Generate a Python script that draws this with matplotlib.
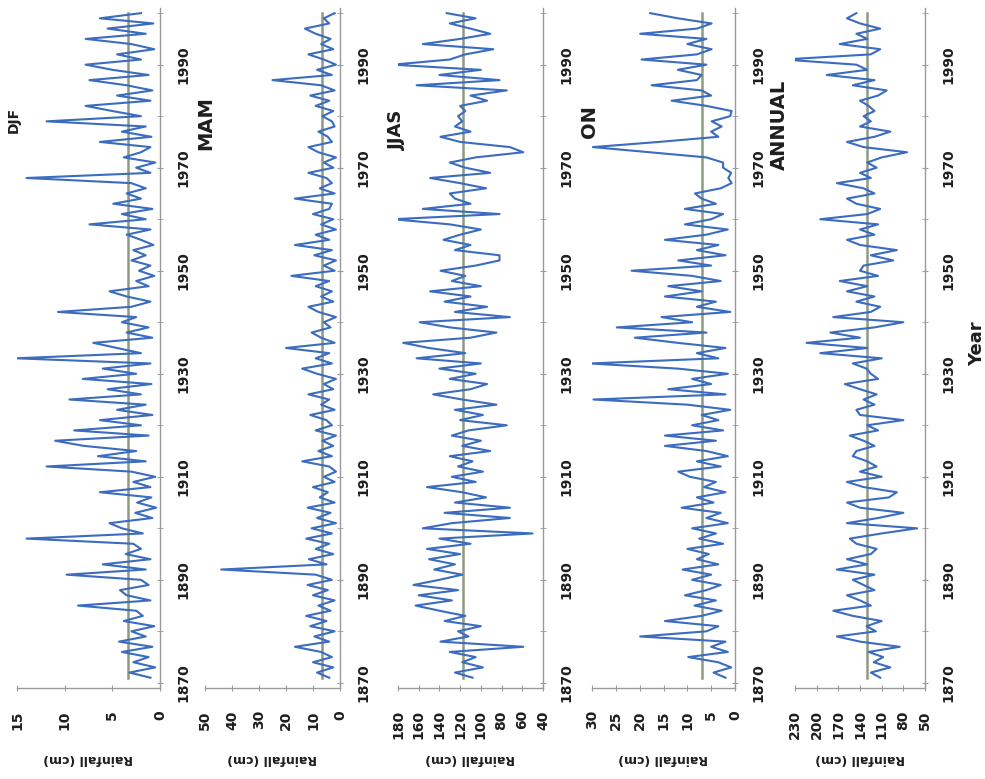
import matplotlib
matplotlib.use('Agg')
import matplotlib.pyplot as plt

plt.rcParams['font.family'] = ['DejaVu Sans']
plt.rcParams['font.weight'] = 'bold'

# ---------------- data ----------------
years = list(range(1871, 2001))

djf = [1.0, 3.2, 0.5, 2.8, 1.2, 4.0, 0.8, 4.3, 1.5, 3.0,
       0.6, 3.8, 1.8, 2.5, 8.6, 1.0, 3.5, 4.2, 1.2, 2.0,
       9.8, 1.5, 6.0, 1.0, 3.6, 2.0, 2.8, 14.0, 1.8, 4.0,
       5.3, 0.8, 2.6, 0.4, 2.4, 0.9, 6.3, 1.0, 2.8, 0.5,
       3.0, 11.9, 1.5, 6.5, 2.5, 8.0, 11.0, 1.2, 9.0, 2.0,
       6.3, 0.8, 4.5, 1.5, 9.5, 2.0, 5.5, 0.9, 8.1, 2.5,
       6.0, 1.0, 15.1, 2.0, 4.5, 7.0, 0.8, 3.5, 1.2, 4.0,
       2.5, 10.7, 3.0, 1.0, 3.5, 5.3, 1.2, 2.5, 0.6, 2.2,
       1.0, 3.0, 1.5, 2.8, 0.7, 2.0, 3.5, 1.0, 7.4, 1.5,
       4.0, 0.8, 4.9, 2.0, 3.5, 1.5, 3.0, 14.0, 1.0, 2.5,
       0.5, 3.8, 2.0, 1.0, 6.3, 0.9, 4.0, 1.5, 11.9, 2.0,
       5.0, 7.8, 1.0, 4.5, 0.8, 3.5, 7.4, 1.2, 5.0, 7.8,
       2.0, 4.5, 0.6, 3.0, 7.8, 1.5, 5.5, 0.7, 6.3, 2.0]

mam = [4.0, 8.5, 2.5, 10.0, 3.0, 7.0, 16.7, 4.0, 9.5, 2.0,
       11.0, 5.0, 12.5, 3.5, 8.0, 2.0, 10.0, 4.5, 12.0, 3.0,
       9.0, 44.0, 5.0, 11.5, 2.5, 9.0, 4.0, 12.5, 3.0, 10.5,
       1.5, 8.5, 3.5, 12.0, 2.0, 7.5, 4.5, 10.0, 2.0, 6.0,
       1.5, 4.0, 14.0, 3.0, 8.0, 2.5, 6.5, 1.5, 9.0, 3.0,
       5.0, 11.0, 2.0, 7.0, 4.0, 11.7, 2.5, 6.0, 1.5, 8.5,
       14.0, 3.0, 9.0, 4.0, 20.0, 2.0, 7.0, 10.5, 3.5, 6.0,
       1.5, 8.0, 11.7, 2.5, 7.0, 3.0, 9.0, 4.0, 18.0, 2.0,
       6.0, 1.5, 9.5, 3.0, 16.7, 4.0, 9.0, 1.5, 7.0, 2.5,
       10.0, 4.0, 3.0, 16.7, 2.0, 7.5, 3.0, 5.0, 11.7, 2.5,
       6.0, 1.5, 8.0, 11.7, 3.0, 4.5, 8.0, 2.0, 3.0, 6.5,
       2.5, 9.0, 4.0, 11.0, 2.0, 7.0, 25.0, 3.0, 8.5, 1.5,
       6.0, 11.7, 2.5, 7.0, 3.5, 9.0, 13.0, 4.0, 6.0, 2.0]

jjas = [108, 125, 98, 118, 105, 130, 59, 139, 112, 122,
        100, 135, 115, 140, 163, 128, 160, 122, 165, 140,
        118, 145, 125, 150, 120, 152, 110, 140, 50, 156,
        128, 72, 135, 72, 125, 95, 118, 152, 105, 128,
        98, 122, 108, 130, 91, 118, 100, 128, 112, 75,
        120, 98, 125, 85, 118, 146, 110, 94, 130, 105,
        140, 100, 162, 115, 150, 175, 110, 85, 130, 159,
        72, 125, 94, 135, 110, 149, 100, 128, 115, 139,
        105, 82, 82, 125, 110, 136, 120, 100, 130, 185,
        82, 156, 110, 125, 130, 95, 120, 149, 91, 115,
        130, 105, 59, 72, 120, 139, 110, 125, 118, 122,
        115, 120, 94, 110, 75, 162, 82, 140, 100, 185,
        130, 115, 88, 156, 120, 91, 110, 130, 105, 133]

on = [2.0, 4.5, 0.8, 3.5, 9.8, 1.5, 5.0, 2.0, 19.9, 6.0,
      3.5, 14.7, 7.0, 2.8, 8.5, 4.0, 10.5, 6.0, 3.0, 9.0,
      5.0, 11.0, 3.5, 8.0, 5.5, 10.0, 2.5, 7.5, 4.0, 9.0,
      1.5, 6.0, 3.0, 11.2, 4.5, 8.0, 2.0, 6.5, 4.0, 9.5,
      11.9, 3.0, 8.0, 1.5, 6.0, 14.7, 4.0, 14.7, 2.5, 9.0,
      3.5, 7.0, 1.0, 10.0, 29.7, 2.0, 14.0, 5.0, 9.0, 1.5,
      12.0, 30.4, 3.5, 8.0, 2.0, 12.0, 21.0, 6.0, 24.8, 9.0,
      15.4, 1.0, 8.0, 4.0, 14.7, 7.0, 14.0, 3.0, 9.0, 21.7,
      5.0, 11.9, 2.0, 8.0, 3.5, 14.7, 6.0, 1.5, 10.5, 5.0,
      2.5, 10.5, 4.0, 7.0, 8.4, 3.0, 0.7, 1.4, 0.8, 2.5,
      2.5, 6.0, 18.0, 29.8, 16.0, 3.5, 5.0, 2.8, 4.9, 1.0,
      0.7, 6.0, 13.3, 5.0, 7.0, 17.5, 8.0, 7.0, 12.0, 6.0,
      19.6, 8.0, 4.9, 10.0, 6.0, 19.9, 8.0, 4.9, 12.0, 17.8]

annual = [112, 125, 98, 121, 108, 128, 85, 140, 172, 118,
          131, 110, 150, 177, 125, 140, 158, 120, 135, 150,
          120, 172, 130, 158, 125, 117, 145, 154, 110, 61,
          158, 115, 80, 140, 158, 100, 89, 135, 158, 110,
          140, 117, 130, 150, 145, 120, 135, 154, 115, 130,
          80, 140, 145, 120, 135, 117, 140, 161, 115, 125,
          131, 150, 110, 195, 130, 214, 140, 181, 120, 80,
          177, 125, 112, 145, 120, 158, 130, 168, 115, 140,
          135, 94, 125, 89, 140, 158, 120, 140, 115, 195,
          130, 112, 145, 158, 120, 135, 172, 125, 140, 117,
          130, 110, 75, 135, 158, 120, 98, 140, 125, 135,
          120, 128, 140, 115, 103, 150, 120, 186, 130, 145,
          246, 125, 112, 168, 130, 145, 112, 140, 158, 145]

season_names = ['DJF', 'MAM', 'JJAS', 'ON', 'ANNUAL']
series = [djf, mam, jjas, on, annual]
mean_values = [3.4, 6.5, 117, 7.0, 131]
rain_ticks = [[0, 5, 10, 15],
              [0, 10, 20, 30, 40, 50],
              [40, 60, 80, 100, 120, 140, 160, 180],
              [0, 5, 10, 15, 20, 25, 30],
              [50, 80, 110, 140, 170, 200, 230]]
year_ticks = [1870, 1890, 1910, 1930, 1950, 1970, 1990]
year_minor = [1880, 1900, 1920, 1940, 1960, 1980, 2000]

# ---------------- layout (pixels of the 985x779 picture) ----------------
W, H = 985, 779
col_px = [(17, 160), (205, 340), (398, 543), (592, 735), (795, 925)]
y_bottom, y_top = 688, 8
title_px = [(14, 120, 10), (206, 123, 14), (397, 130, 13), (590, 122, 14), (779, 125, 14)]

blue = '#3b6cbf'
mean_col = '#8d9b80'
spine_col = '#9a9a9a'
txt_col = '#1e1e1e'

fig = plt.figure(figsize=(W / 100, H / 100), dpi=100)
fig.patch.set_facecolor('white')

for i, name in enumerate(season_names):
    l, r = col_px[i]
    ax = fig.add_axes([l / W, 1 - y_bottom / H, (r - l) / W, (y_bottom - y_top) / H])
    ax.set_facecolor('none')
    vals = series[i]
    ax.plot([mean_values[i]] * len(years), years, color=mean_col, lw=1.8, zorder=1)
    ax.plot(vals, years, color=blue, lw=1.5, zorder=2)
    tk = rain_ticks[i]
    ax.set_xlim(max(tk), min(tk))
    ax.set_ylim(1869, 2001)
    ax.set_xticks(tk)
    ax.set_yticks(year_ticks)
    ax.set_yticks(year_minor, minor=True)
    ax.yaxis.tick_right()
    for s in ['top', 'left']:
        ax.spines[s].set_visible(False)
    for s in ['bottom', 'right']:
        ax.spines[s].set_color(spine_col)
        ax.spines[s].set_linewidth(1.0)
    ax.tick_params(axis='x', direction='inout', length=5, pad=13.5,
                   labelrotation=90, labelsize=10, colors=spine_col, labelcolor=txt_col)
    ax.tick_params(axis='y', which='both', direction='inout', length=5, pad=9,
                   labelrotation=90, labelsize=10, colors=spine_col, labelcolor=txt_col)
    for lab in ax.get_yticklabels():
        lab.set_verticalalignment('center')
    # axis label (upside down, as in the rotated scan)
    fig.text(((l + r) / 2) / W, 1 - 759 / H, 'Rainfall (cm)', rotation=180,
             ha='center', va='center', fontsize=9, color=txt_col)
    tx, ty, ts = title_px[i]
    fig.text(tx / W, 1 - ty / H, name, rotation=90, ha='center', va='center',
             fontsize=ts, color=txt_col)

fig.text(977 / W, 1 - 344 / H, 'Year', rotation=90, ha='center', va='center',
         fontsize=13, color=txt_col)

fig.savefig('out.png', dpi=100)
